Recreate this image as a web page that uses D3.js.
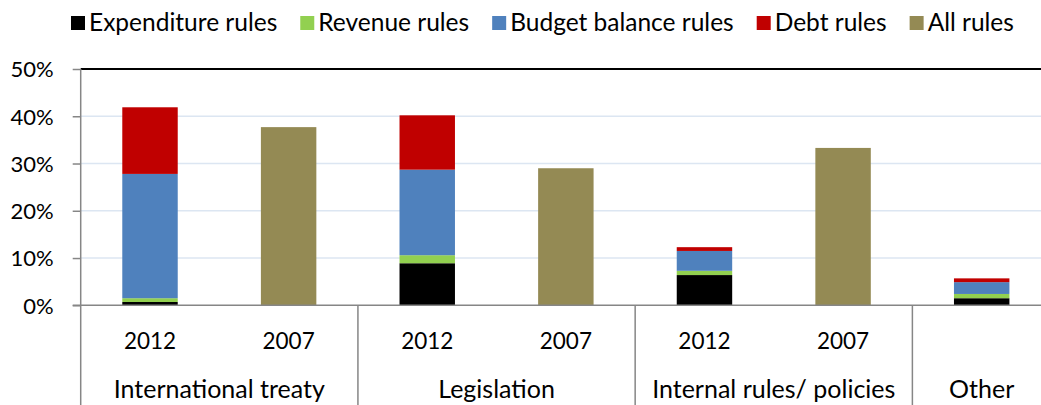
<!DOCTYPE html>
<html>
<head>
<meta charset="utf-8">
<script src="https://cdn.jsdelivr.net/npm/d3@7/dist/d3.min.js"></script>
<style>
  html, body { margin: 0; padding: 0; background: #fff; }
  svg { display: block; }
  text { font-family: Lato, "Open Sans", sans-serif; fill: #000; }
</style>
</head>
<body>
<svg id="chart" width="1041" height="405"></svg>
<script>
// Share of fiscal rules by legal basis, 2012 by rule type vs. 2007 all rules
const groups = ["International treaty", "Legislation", "Internal rules/ policies", "Other"];
const slots = [
  { group: "International treaty", year: "2012" },
  { group: "International treaty", year: "2007" },
  { group: "Legislation", year: "2012" },
  { group: "Legislation", year: "2007" },
  { group: "Internal rules/ policies", year: "2012" },
  { group: "Internal rules/ policies", year: "2007" },
  { group: "Other", year: "" }
];
const seriesNames = ["Expenditure rules", "Revenue rules", "Budget balance rules", "Debt rules", "All rules"];
const seriesColors = ["#000000", "#92D050", "#4F81BD", "#C00000", "#948A54"];

// values in percent, one entry per slot (null = no bar)
const expenditure = [0.7, null, 8.9, null, 6.4, null, 1.5];
const revenue     = [0.8, null, 1.7, null, 0.9, null, 0.9];
const budget      = [26.3, null, 18.1, null, 4.2, null, 2.5];
const debt        = [14.1, null, 11.5, null, 0.8, null, 0.8];
const allRules    = [null, 37.7, null, 29.0, null, 33.3, null];

const yTicks = [0, 10, 20, 30, 40, 50];

const svg = d3.select("#chart");
const plot = { left: 80.7, right: 1051, top: 69, bottom: 305.3 };
const axisGrey = "#868686";

const x = d3.scaleBand()
  .domain(d3.range(slots.length))
  .range([plot.left, plot.right])
  .paddingInner(0.6)
  .paddingOuter(0.3);
const step = x.step();

const y = d3.scaleLinear().domain([0, 50]).range([plot.bottom, plot.top]);

// gridlines
svg.append("g")
  .selectAll("line")
  .data(yTicks.filter(t => t > 0 && t < 50))
  .join("line")
  .attr("x1", plot.left).attr("x2", 1041)
  .attr("y1", d => y(d)).attr("y2", d => y(d))
  .attr("stroke", "#DCE6F2").attr("stroke-width", 1.5);

// top border at 50%
svg.append("line")
  .attr("x1", plot.left).attr("x2", 1041)
  .attr("y1", y(50)).attr("y2", y(50))
  .attr("stroke", "#000").attr("stroke-width", 2);

// stacked bars for 2012
const stackSeries = [expenditure, revenue, budget, debt];
const stackRows = slots.map((s, i) => ({ i, v: stackSeries.map(arr => arr[i]) }))
  .filter(r => r.v[0] !== null);
const stacked = d3.stack()
  .keys(d3.range(stackSeries.length))
  .value((r, k) => r.v[k])(stackRows);

stacked.forEach((layer, k) => {
  svg.append("g")
    .attr("fill", seriesColors[k])
    .selectAll("rect")
    .data(layer)
    .join("rect")
    .attr("x", d => x(d.data.i))
    .attr("width", x.bandwidth())
    .attr("y", d => y(d[1]))
    .attr("height", d => y(d[0]) - y(d[1]));
});

// single bars for 2007
svg.append("g")
  .attr("fill", seriesColors[4])
  .selectAll("rect")
  .data(allRules.map((v, i) => ({ v, i })).filter(d => d.v !== null))
  .join("rect")
  .attr("x", d => x(d.i))
  .attr("width", x.bandwidth())
  .attr("y", d => y(d.v))
  .attr("height", d => y(0) - y(d.v));

// y axis
const yAxis = d3.axisLeft(y).tickValues(yTicks).tickFormat(d => d + "%").tickSize(8).tickPadding(19);
const yg = svg.append("g").attr("transform", `translate(${plot.left},0)`).call(yAxis);
yg.select(".domain").remove();
yg.selectAll(".tick line").attr("stroke", axisGrey).attr("stroke-width", 1.5);
yg.selectAll(".tick text").style("font-family", "Lato").style("font-size", "22px").attr("dy", "0.36em");

svg.append("line")
  .attr("x1", plot.left).attr("x2", plot.left)
  .attr("y1", plot.top).attr("y2", 405)
  .attr("stroke", axisGrey).attr("stroke-width", 1.5);

// x axis line
svg.append("line")
  .attr("x1", plot.left - 8).attr("x2", 1041)
  .attr("y1", y(0)).attr("y2", y(0))
  .attr("stroke", axisGrey).attr("stroke-width", 1.5);

// group separators below the axis
const groupBounds = groups.map(g => {
  const idx = slots.map((s, i) => s.group === g ? i : -1).filter(i => i >= 0);
  const start = x(idx[0]) - (step - x.bandwidth()) / 2;
  const end = x(idx[idx.length - 1]) + x.bandwidth() + (step - x.bandwidth()) / 2;
  return { g, start, end };
});
svg.append("g")
  .selectAll("line")
  .data(groupBounds.slice(1))
  .join("line")
  .attr("x1", d => d.start).attr("x2", d => d.start)
  .attr("y1", y(0)).attr("y2", 405)
  .attr("stroke", axisGrey).attr("stroke-width", 1.5);

// year labels
svg.append("g")
  .selectAll("text")
  .data(slots.map((s, i) => ({ s, i })).filter(d => d.s.year))
  .join("text")
  .attr("x", d => x(d.i) + x.bandwidth() / 2)
  .attr("y", 349)
  .attr("text-anchor", "middle")
  .style("font-size", "22.5px")
  .text(d => d.s.year);

// group labels
svg.append("g")
  .selectAll("text")
  .data(groupBounds)
  .join("text")
  .attr("x", d => d.g === "Other" ? x(slots.length - 1) + x.bandwidth() / 2 : (d.start + d.end) / 2)
  .attr("y", 398)
  .attr("text-anchor", "middle")
  .style("font-size", "25px")
  .text(d => d.g);

// legend
const legend = svg.append("g");
let lx = 71;
seriesNames.forEach((name, k) => {
  legend.append("rect")
    .attr("x", lx).attr("y", 16)
    .attr("width", 14).attr("height", 14)
    .attr("fill", seriesColors[k]);
  const t = legend.append("text")
    .attr("x", lx + 18).attr("y", 31)
    .style("font-size", "24.5px")
    .text(name);
  lx += 18 + t.node().getComputedTextLength() + 23;
});
</script>
</body>
</html>
